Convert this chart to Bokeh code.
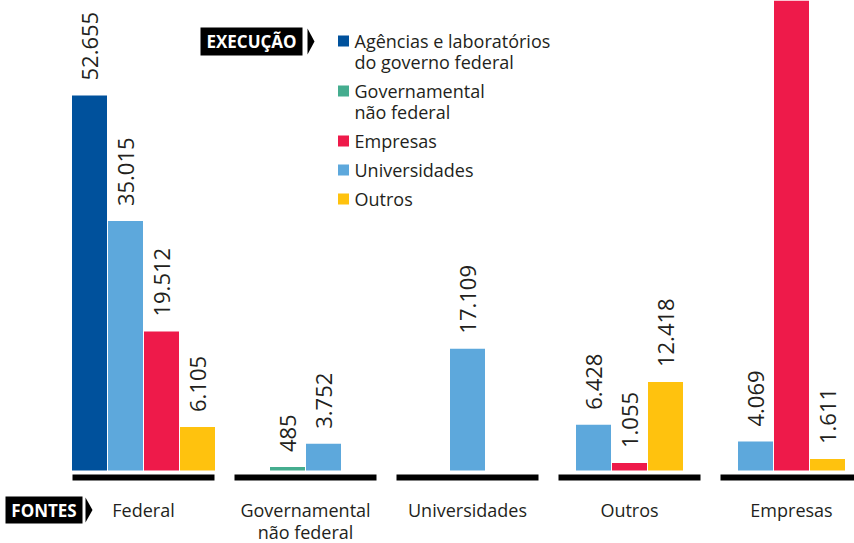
import math
from bokeh.plotting import figure
from bokeh.models import Range1d
from bokeh.core.properties import value
from bokeh.embed import file_html
from bokeh.resources import INLINE

# ---------------- data ----------------
fontes = ["Federal", "Governamental\nnão federal", "Universidades", "Outros", "Empresas"]
execucao = ["Agências e laboratórios\ndo governo federal", "Governamental\nnão federal",
            "Empresas", "Universidades", "Outros"]
cores = ["#00519c", "#45ad8f", "#ee1a4a", "#5da8dc", "#ffc20e"]
agencias = [52655, 0, 0, 0, 0]
governamental = [0, 485, 0, 0, 0]
empresas = [19512, 0, 0, 1055, 264000]
universidades = [35015, 3752, 17109, 6428, 4069]
outros = [6105, 0, 0, 12418, 1611]
series = [agencias, governamental, empresas, universidades, outros]   # legend order
ordem_barras = [0, 1, 3, 2, 4]                                        # order inside each group

# ---------------- layout helpers ----------------
W, H = 854, 543
GX = 162.0          # px per group
X0 = 143            # px of first group centre
BASE = 470          # px of zero line
PPK = 7.122         # px per 1000


def dx(px):
    return (px - X0) / GX


def dy(py):
    return (BASE - py) * 1000.0 / PPK


FONT = value("Open Sans")
TXT = "#231f20"
YMAX = dy(0)

p = figure(width=W, height=H, output_backend="svg", toolbar_location=None,
           x_range=Range1d(dx(0), dx(W)), y_range=Range1d(dy(H), YMAX),
           x_axis_location=None, y_axis_location=None, min_border=0,
           background_fill_color="white", border_fill_color="white")
p.outline_line_color = None
p.grid.visible = False

# ---------------- bars ----------------
STEP = 36 / GX
BW = 35 / GX
bx, btop, bcol = [], [], []
lx, ly, lt = [], [], []
for g in range(len(fontes)):
    present = [s for s in ordem_barras if series[s][g] > 0]
    n = len(present)
    for k, s in enumerate(present):
        x = g + (k - (n - 1) / 2) * STEP
        v = series[s][g]
        bx.append(x)
        btop.append(v)
        bcol.append(cores[s])
        if v < YMAX:  # labels of bars running off the top are not visible
            lx.append(x)
            ly.append(v)
            lt.append(f"{v:,}".replace(",", "."))

p.vbar(x=bx, top=btop, bottom=0, width=BW, fill_color=bcol, line_color=None)
p.text(x=lx, y=ly, text=lt, angle=math.pi / 2, text_align="left",
       text_baseline="middle", y_offset=-15, text_font=FONT,
       text_font_size="22px", text_color=TXT)

# group baselines
gx = list(range(len(fontes)))
half = 71 / GX
p.segment(x0=[g - half for g in gx], y0=[dy(477)] * len(gx),
          x1=[g + half for g in gx], y1=[dy(477)] * len(gx),
          line_color="black", line_width=6, line_cap="butt")

# category labels
for j in range(2):
    xs, ts = [], []
    for g, f in enumerate(fontes):
        parts = f.split("\n")
        if j < len(parts):
            xs.append(g)
            ts.append(parts[j])
    p.text(x=xs, y=[0] * len(xs), text=ts, y_offset=39 + 22 * j,
           text_align="center", text_baseline="middle", text_font=FONT,
           text_font_size="18px", text_color=TXT)

# ---------------- legend ----------------
lx_sq = dx(343)
lx_tx = dx(354)
line_y = 40.5
sq_y, tx_y, tx_t = [], [], []
for i, lab in enumerate(execucao):
    parts = lab.split("\n")
    sq_y.append(dy(line_y))
    for part in parts:
        tx_y.append(dy(line_y))
        tx_t.append(part)
        line_y += 21
    line_y += 8
p.scatter(x=[lx_sq] * len(sq_y), y=sq_y, marker="square", size=11,
          fill_color=cores, line_color=None)
p.text(x=[lx_tx] * len(tx_y), y=tx_y, text=tx_t, text_align="left",
       text_baseline="middle", text_font=FONT, text_font_size="18px",
       text_color=TXT)

# ---------------- tags ----------------
def tag(label, cx, cy, w, h, ax):
    p.rect(x=dx(cx), y=dy(cy), width=w, height=h, width_units="screen",
           height_units="screen", fill_color="black", line_color=None)
    p.text(x=[dx(cx)], y=[dy(cy)], text=[label], text_align="center",
           text_baseline="middle", text_font=FONT, text_font_size="17px",
           text_font_style="bold", text_color="white")
    p.patch(x=[dx(ax), dx(ax + 7), dx(ax)],
            y=[dy(cy - h / 2 + 1), dy(cy), dy(cy + h / 2 - 1)],
            fill_color="black", line_color=None)


tag("EXECUÇÃO", 251, 41, 102, 28, 307)
tag("FONTES", 43.5, 509.5, 77, 27, 85)

open("out.html", "w").write(file_html(p, INLINE))
